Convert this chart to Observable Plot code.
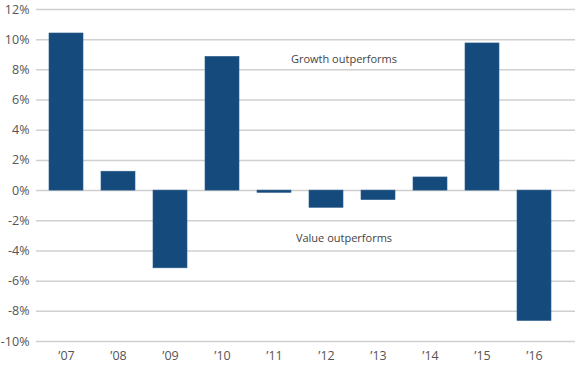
<!DOCTYPE html>
<html>
<head>
<meta charset="utf-8">
<script src="https://cdn.jsdelivr.net/npm/d3@7"></script>
<script src="https://cdn.jsdelivr.net/npm/@observablehq/plot@0.6"></script>
<style>
  html, body { margin: 0; padding: 0; background: #fff; }
  #chart svg { display: block; }
</style>
</head>
<body>
<div id="chart"></div>
<script>
const years = ["’07", "’08", "’09", "’10", "’11", "’12", "’13", "’14", "’15", "’16"];
const values = [10.41, 1.25, -5.15, 8.86, -0.15, -1.14, -0.63, 0.87, 9.75, -8.64];
const yTicks = [-10, -8, -6, -4, -2, 0, 2, 4, 6, 8, 10, 12];
const annotationLabels = ["Growth outperforms", "Value outperforms"];
const annotationY = [8.71, -3.15];
const annotationX = ["’12", "’12"];

const data = years.map((y, i) => ({year: y, value: values[i]}));
const notes = annotationLabels.map((t, i) => ({text: t, y: annotationY[i], x: annotationX[i]}));

const chart = Plot.plot({
  width: 580,
  height: 369,
  marginTop: 9,
  marginBottom: 28,
  marginLeft: 36,
  marginRight: 5,
  style: {fontFamily: "'Open Sans', sans-serif", fontSize: "12px", color: "#555"},
  x: {domain: years, range: [27.2, 572.5], padding: 0.355, label: null},
  y: {domain: [-10, 12], ticks: yTicks, label: null, tickFormat: d => d + "%"},
  marks: [
    Plot.ruleY(yTicks, {stroke: "#d0d0d0", strokeWidth: 1.5}),
    Plot.barY(data, {x: "year", y: "value", fill: "#154a7c", stroke: "#2a5c8c", strokeWidth: 0.6}),
    Plot.axisY({ticks: yTicks, tickSize: 0, tickPadding: 7, tickFormat: d => d + "%", fontSize: 12.5, fill: "#555"}),
    Plot.axisX({tickSize: 0, tickPadding: 10, fontSize: 12.5, fill: "#555"}),
    Plot.text(notes, {x: "x", y: "y", text: "text", dx: 17.5, fontSize: 11, fill: "#444"})
  ]
});
document.getElementById("chart").appendChild(chart);
</script>
</body>
</html>
